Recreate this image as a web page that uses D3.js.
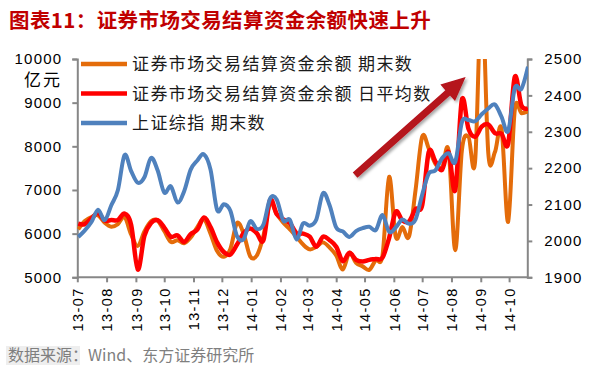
<!DOCTYPE html>
<html><head><meta charset="utf-8">
<script src="https://cdn.jsdelivr.net/npm/d3@7"></script>
<style>
html,body{margin:0;padding:0;background:#fff;}
svg{display:block;}
</style></head>
<body>
<svg id="c" width="595" height="369"></svg>
<script>
// ---------------- data ----------------
const weeks = ["2013-07-02","2013-07-09","2013-07-16","2013-07-23","2013-07-30","2013-08-06","2013-08-13","2013-08-20","2013-08-27","2013-09-03","2013-09-10","2013-09-17","2013-09-24","2013-10-01","2013-10-08","2013-10-15","2013-10-22","2013-10-29","2013-11-05","2013-11-12","2013-11-19","2013-11-26","2013-12-03","2013-12-10","2013-12-17","2013-12-24","2013-12-31","2014-01-07","2014-01-14","2014-01-21","2014-01-28","2014-02-04","2014-02-11","2014-02-18","2014-02-25","2014-03-04","2014-03-11","2014-03-18","2014-03-25","2014-04-01","2014-04-08","2014-04-15","2014-04-22","2014-04-29","2014-05-06","2014-05-13","2014-05-20","2014-05-27","2014-06-03","2014-06-10","2014-06-17","2014-06-24","2014-07-01","2014-07-08","2014-07-15","2014-07-22","2014-07-29","2014-08-05","2014-08-12","2014-08-19","2014-08-26","2014-09-02","2014-09-09","2014-09-16","2014-09-23","2014-09-30","2014-10-07","2014-10-14","2014-10-21"];
// 证券市场交易结算资金余额 期末数 (亿元)
const fundEnd = [6100,6290,6380,6420,6250,6160,6220,6380,5980,5720,
  6050,6280,6300,6060,5810,5850,5780,5910,6150,6330,
  6000,5600,5470,5650,6240,6000,5480,5500,5950,6700,
  6450,6250,6100,5930,5750,5640,5700,5800,5680,5500,
  5180,5560,5330,5250,5170,5400,5500,7300,5930,6150,
  5930,7000,8220,7950,7600,7500,7900,5620,7900,8220,
  7650,11500,7840,7870,8400,6270,8830,8760,8800];
// 证券市场交易结算资金余额 日平均数 (亿元)
const fundAvg = [6230,6220,6350,6470,6300,6310,6310,6460,6200,5180,
  5950,6240,6310,6140,5930,5960,5810,5990,6090,6370,
  6150,5800,5580,5520,5750,6010,6120,6010,5850,6770,
  6450,6330,6240,6010,6000,5930,5700,5930,5850,5700,
  5370,5560,5400,5360,5400,5420,5450,5900,6500,6300,
  6280,6560,6650,7870,7650,7460,7870,7000,9060,8400,
  8220,8450,8500,8300,8290,8060,9590,8940,8870];
// 上证综指 期末数
const shIndex = [2011,2029,2052,2086,2057,2098,2140,2236,2192,2160,
  2175,2228,2194,2133,2150,2106,2136,2196,2221,2238,
  2196,2085,2101,2083,2013,2005,2054,2033,2045,2116,
  2114,2056,2058,2004,2048,2042,2059,2131,2098,2037,
  2026,2011,2027,2035,2039,2030,2071,2025,2037,2059,
  2047,2059,2127,2185,2194,2227,2241,2217,2326,2332,
  2329,2348,2364,2375,2341,2302,2420,2418,2479];
const leftTicks = [5000,6000,7000,8000,9000,10000];
const rightTicks = [1900,2000,2100,2200,2300,2400,2500];
const seriesNames = ["证券市场交易结算资金余额 期末数","证券市场交易结算资金余额 日平均数","上证综指 期末数"];
const title = "图表11：证券市场交易结算资金余额快速上升";
const unitLabel = "亿元";
const source = "数据来源：Wind、东方证券研究所";
// arrow annotation (in data space: date, left-axis value)
const arrowFrom = ["2014-04-21", 7340];
const arrowTo = ["2014-08-16", 9590];

// ---------------- layout ----------------
const svg = d3.select("#c");
const L = 77.3, R = 528, T = 59, B = 277.3;
const parse = d3.timeParse("%Y-%m-%d");
const dates = weeks.map(parse);
const x = d3.scaleTime().domain([parse("2013-07-01"), parse("2014-10-21")]).range([L, R]);
const yL = d3.scaleLinear().domain([5000, 10000]).range([B, T]);
const yR = d3.scaleLinear().domain([1900, 2500]).range([B, T]);
const colors = ["#E46C0A", "#FF0000", "#4F81BD"];
const numFont = "'Liberation Sans', Arial, sans-serif";
const cjkFont = "'Noto Sans CJK SC', 'Noto Sans', sans-serif";

// title
svg.append("text").attr("x", 9).attr("y", 28)
  .attr("font-family", cjkFont).attr("font-weight", "bold").attr("font-size", 20.5)
  .attr("letter-spacing", 0.4)
  .attr("fill", "#C00000").text(title);

// clip
svg.append("defs").append("clipPath").attr("id", "plotclip")
  .append("rect").attr("x", L).attr("y", T).attr("width", R - L).attr("height", B - T);

const axisColor = "#878787";
// left axis
const gL = svg.append("g").attr("transform", `translate(${L},0)`)
  .call(d3.axisLeft(yL).tickValues(leftTicks).tickSize(5).tickPadding(10).tickFormat(d3.format("d")));
// right axis
const gR = svg.append("g").attr("transform", `translate(${R - 0.7},0)`)
  .call(d3.axisRight(yR).tickValues(rightTicks).tickSize(5).tickPadding(12).tickFormat(d3.format("d")));
// bottom axis
const monthTicks = d3.timeMonth.range(parse("2013-07-01"), parse("2014-10-02"));
const gB = svg.append("g").attr("transform", `translate(0,${B})`)
  .call(d3.axisBottom(x).tickValues(monthTicks).tickSize(5).tickFormat(d3.timeFormat("%y-%m")));
gB.selectAll("text").attr("transform", "rotate(-90)").attr("text-anchor", "end")
  .attr("x", -10).attr("y", 0).attr("dy", "0.36em").attr("font-size", 14.5).attr("letter-spacing", 1.4);

[gL, gR, gB].forEach(g => {
  g.select(".domain").attr("stroke", axisColor).attr("stroke-width", 2);
  g.selectAll(".tick line").attr("stroke", axisColor).attr("stroke-width", 2);
  g.selectAll("text").attr("fill", "#000").attr("font-family", numFont);
});
gL.selectAll("text").attr("font-size", 15).attr("letter-spacing", 1.2);
gR.selectAll("text").attr("font-size", 15).attr("letter-spacing", 1.2);
gB.select(".domain").attr("d", `M${L},0H${R}`);

// unit label
svg.append("text").attr("x", 43).attr("y", 86).attr("text-anchor", "middle")
  .attr("font-family", cjkFont).attr("font-size", 17).attr("letter-spacing", 2).attr("fill", "#000").text(unitLabel);

// lines
const plot = svg.append("g").attr("clip-path", "url(#plotclip)");
const curve = d3.curveCardinal.tension(0);
const lineL = d3.line().x((d, i) => x(dates[i])).y(d => yL(d)).curve(curve);
const lineR = d3.line().x((d, i) => x(dates[i])).y(d => yR(d)).curve(curve);
plot.append("path").attr("d", lineL(fundEnd)).attr("fill", "none").attr("stroke", colors[0]).attr("stroke-width", 4);
plot.append("path").attr("d", lineL(fundAvg)).attr("fill", "none").attr("stroke", colors[1]).attr("stroke-width", 4.5);
plot.append("path").attr("d", lineR(shIndex)).attr("fill", "none").attr("stroke", colors[2]).attr("stroke-width", 4);

// legend
const legY = [64, 93.5, 123];
seriesNames.forEach((n, i) => {
  svg.append("line").attr("x1", 81).attr("x2", 127).attr("y1", legY[i]).attr("y2", legY[i])
    .attr("stroke", colors[i]).attr("stroke-width", 4.5);
  svg.append("text").attr("x", 132).attr("y", legY[i]).attr("dy", "0.36em")
    .attr("font-family", cjkFont).attr("font-size", 17).attr("letter-spacing", 1.4)
    .attr("fill", "#1a1a1a").text(n);
});

// arrow
const defs = svg.select("defs");
const f = defs.append("filter").attr("id", "sh").attr("x", "-20%").attr("y", "-20%").attr("width", "140%").attr("height", "140%");
f.append("feDropShadow").attr("dx", 2).attr("dy", 2).attr("stdDeviation", 1.5).attr("flood-color", "#000").attr("flood-opacity", 0.35);
const p0 = [x(parse(arrowFrom[0])), yL(arrowFrom[1])];
const p1 = [x(parse(arrowTo[0])), yL(arrowTo[1])];
const dx = p1[0] - p0[0], dy = p1[1] - p0[1], len = Math.hypot(dx, dy);
const ux = dx / len, uy = dy / len, nx = -uy, ny = ux;
const sw = 3.5, hw = 11, hl = 24;
const bx = p1[0] - ux * hl, by = p1[1] - uy * hl;
const pts = [
  [p0[0] + nx * sw, p0[1] + ny * sw], [bx + nx * sw, by + ny * sw], [bx + nx * hw, by + ny * hw],
  p1, [bx - nx * hw, by - ny * hw], [bx - nx * sw, by - ny * sw], [p0[0] - nx * sw, p0[1] - ny * sw]];
svg.append("polygon").attr("points", pts.map(p => p.join(",")).join(" "))
  .attr("fill", "#B5121B").attr("filter", "url(#sh)");

// source
svg.append("rect").attr("x", 6).attr("y", 346).attr("width", 74).attr("height", 19).attr("fill", "#eeeeee");
svg.append("text").attr("x", 8).attr("y", 361).attr("font-family", cjkFont).attr("font-size", 16)
  .attr("fill", "#7f7f7f").text(source);
</script>
</body></html>
